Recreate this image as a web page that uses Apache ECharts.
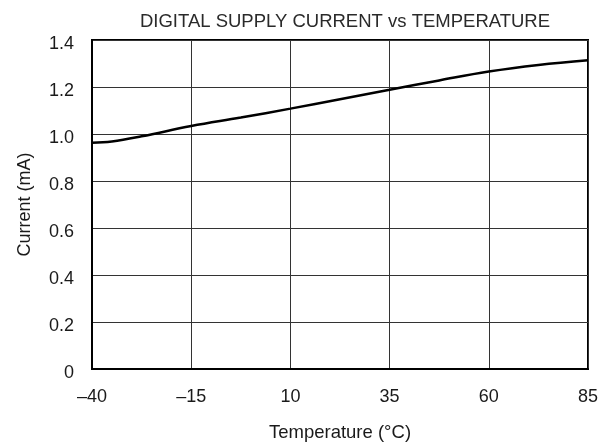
<!DOCTYPE html>
<html><head><meta charset="utf-8">
<script src="https://cdn.jsdelivr.net/npm/echarts@6/dist/echarts.min.js"></script>
<style>html,body{margin:0;padding:0;background:#fff}#c{width:614px;height:447px}</style>
</head><body><div id="c"></div>
<script>
const titleText = 'DIGITAL SUPPLY CURRENT vs TEMPERATURE';
const xName = 'Temperature (°C)';
const yName = 'Current (mA)';
const temperature = [-40, -35, -27.5, -15, -2.5, 10, 22.5, 35, 47.5, 60, 72.5, 85];
const current = [0.963, 0.968, 0.99, 1.034, 1.07, 1.108, 1.148, 1.188, 1.228, 1.266, 1.294, 1.314];

const chart = echarts.init(document.getElementById('c'));
const font = 'Liberation Sans, Arial, sans-serif';
const txt = '#1a1a1a';
chart.setOption({
  animation: false,
  title: { text: titleText, left: 340, top: 7, textAlign: 'center',
    textStyle: { fontFamily: font, fontSize: 18.5, fontWeight: 'normal', color: '#2a2a2a' } },
  grid: { left: 92, right: 26, top: 40, bottom: 72, show: true, borderColor: '#000', borderWidth: 2 },
  xAxis: { type: 'value', min: -40, max: 85, interval: 25,
    name: xName, nameLocation: 'middle', nameGap: 54,
    nameTextStyle: { fontFamily: font, fontSize: 18.5, color: txt },
    axisLine: { lineStyle: { color: '#000', width: 2 } },
    axisTick: { show: false },
    axisLabel: { margin: 19, fontFamily: font, fontSize: 18, color: txt,
      formatter: v => String(v).replace('-', '\u2013') },
    splitLine: { show: true, lineStyle: { color: '#333', width: 1 } } },
  yAxis: { type: 'value', min: 0, max: 1.4, interval: 0.2,
    name: yName, nameLocation: 'middle', nameGap: 58,
    nameTextStyle: { fontFamily: font, fontSize: 18, color: txt },
    axisLine: { show: true, onZero: false, lineStyle: { color: '#000', width: 2 } },
    axisTick: { show: false },
    axisLabel: { margin: 18, fontFamily: font, fontSize: 18, color: txt,
      verticalAlign: 'top', lineHeight: 9,
      formatter: v => v === 0 ? '0' : v.toFixed(1) },
    splitLine: { show: true, lineStyle: { color: '#333', width: 1 } } },
  series: [{ type: 'line', data: temperature.map((t, i) => [t, current[i]]),
    smooth: 0.4, symbol: 'none', lineStyle: { color: '#000', width: 2.5 } }]
});
</script></body></html>
